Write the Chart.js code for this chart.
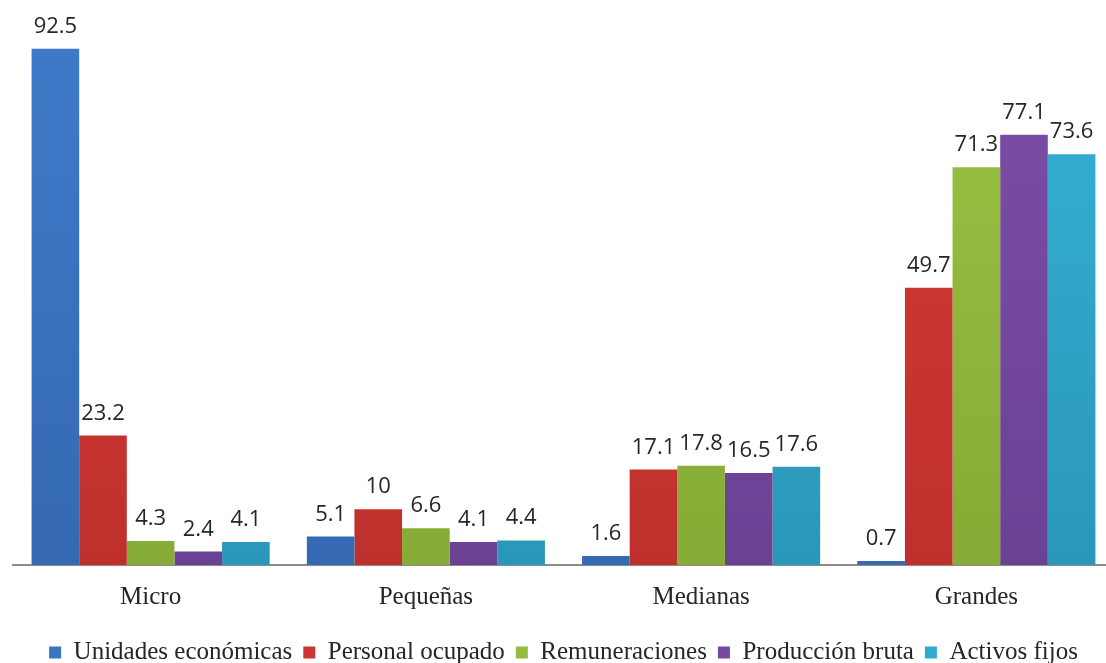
<!DOCTYPE html>
<html lang="es">
<head>
<meta charset="utf-8">
<title>Unidades económicas por tamaño</title>
<script src="https://cdn.jsdelivr.net/npm/chart.js@4.4.1/dist/chart.umd.min.js"></script>
<style>
  html, body { margin: 0; padding: 0; background: #fff; overflow: hidden; }
  .wrap { width: 1106px; height: 663px; overflow: hidden; }
</style>
</head>
<body>
<div class="wrap"><canvas id="chart" width="1128" height="675"></canvas></div>
<script>
// ── Data ──────────────────────────────────────
const categories = ['Micro', 'Pequeñas', 'Medianas', 'Grandes'];
const seriesNames = ['Unidades económicas', 'Personal ocupado', 'Remuneraciones', 'Producción bruta', 'Activos fijos'];
const unidades     = [92.5, 5.1, 1.6, 0.7];
const personal     = [23.2, 10, 17.1, 49.7];
const remuneracion = [4.3, 6.6, 17.8, 71.3];
const produccion   = [2.4, 4.1, 16.5, 77.1];
const activos      = [4.1, 4.4, 17.6, 73.6];

const seriesValues = [unidades, personal, remuneracion, produccion, activos];

// flat colour for legend boxes, plus top / bottom shades for the bars
const colors    = ['#3a74c2', '#cc3733', '#93bb3d', '#7649a0', '#31aacf'];
const topShade  = ['#3f7bcb', '#d83c38', '#9bc443', '#7e4fa9', '#36b3d8'];
const baseShade = ['#3569b2', '#be302c', '#86ab36', '#6a4193', '#2a97ba'];

function barFill(i) {
  return (ctx) => {
    const area = ctx.chart.chartArea;
    if (!area) return colors[i];
    const g = ctx.chart.ctx.createLinearGradient(0, area.top, 0, area.bottom);
    g.addColorStop(0, topShade[i]);
    g.addColorStop(1, baseShade[i]);
    return g;
  };
}

// ── Value labels above each bar ───────────────
const valueLabels = {
  id: 'valueLabels',
  afterDatasetsDraw(chart) {
    const ctx = chart.ctx;
    ctx.save();
    ctx.font = '22px "Open Sans"';
    ctx.fillStyle = '#262626';
    ctx.textAlign = 'center';
    ctx.textBaseline = 'alphabetic';
    chart.data.datasets.forEach((ds, i) => {
      chart.getDatasetMeta(i).data.forEach((bar, j) => {
        ctx.fillText(String(ds.data[j]), bar.x, bar.y - 16);
      });
    });
    ctx.restore();
  }
};

new Chart(document.getElementById('chart'), {
  type: 'bar',
  data: {
    labels: categories,
    datasets: seriesValues.map((vals, i) => ({
      label: seriesNames[i],
      data: vals,
      backgroundColor: barFill(i),
      borderWidth: 0,
      categoryPercentage: 0.865,
      barPercentage: 1
    }))
  },
  options: {
    responsive: false,
    animation: false,
    layout: { padding: { left: 13, right: 14, top: 7, bottom: 0 } },
    scales: {
      x: {
        grid: { display: false, drawTicks: false },
        border: { display: true, color: '#8c8c8c', width: 2 },
        ticks: { color: '#262626', padding: 17, font: { family: '"Liberation Serif"', size: 25 } }
      },
      y: { display: false, min: 0, max: 100 }
    },
    plugins: {
      legend: {
        position: 'bottom',
        labels: {
          color: '#262626',
          boxWidth: 12,
          boxHeight: 12,
          padding: 11,
          font: { family: '"Liberation Serif"', size: 25 },
          generateLabels(chart) {
            return chart.data.datasets.map((ds, i) => ({
              text: ds.label,
              fillStyle: colors[i],
              strokeStyle: colors[i],
              lineWidth: 0,
              fontColor: '#262626',
              datasetIndex: i,
              hidden: !chart.isDatasetVisible(i)
            }));
          }
        }
      },
      tooltip: { enabled: false }
    }
  },
  plugins: [valueLabels]
});
</script>
</body>
</html>
